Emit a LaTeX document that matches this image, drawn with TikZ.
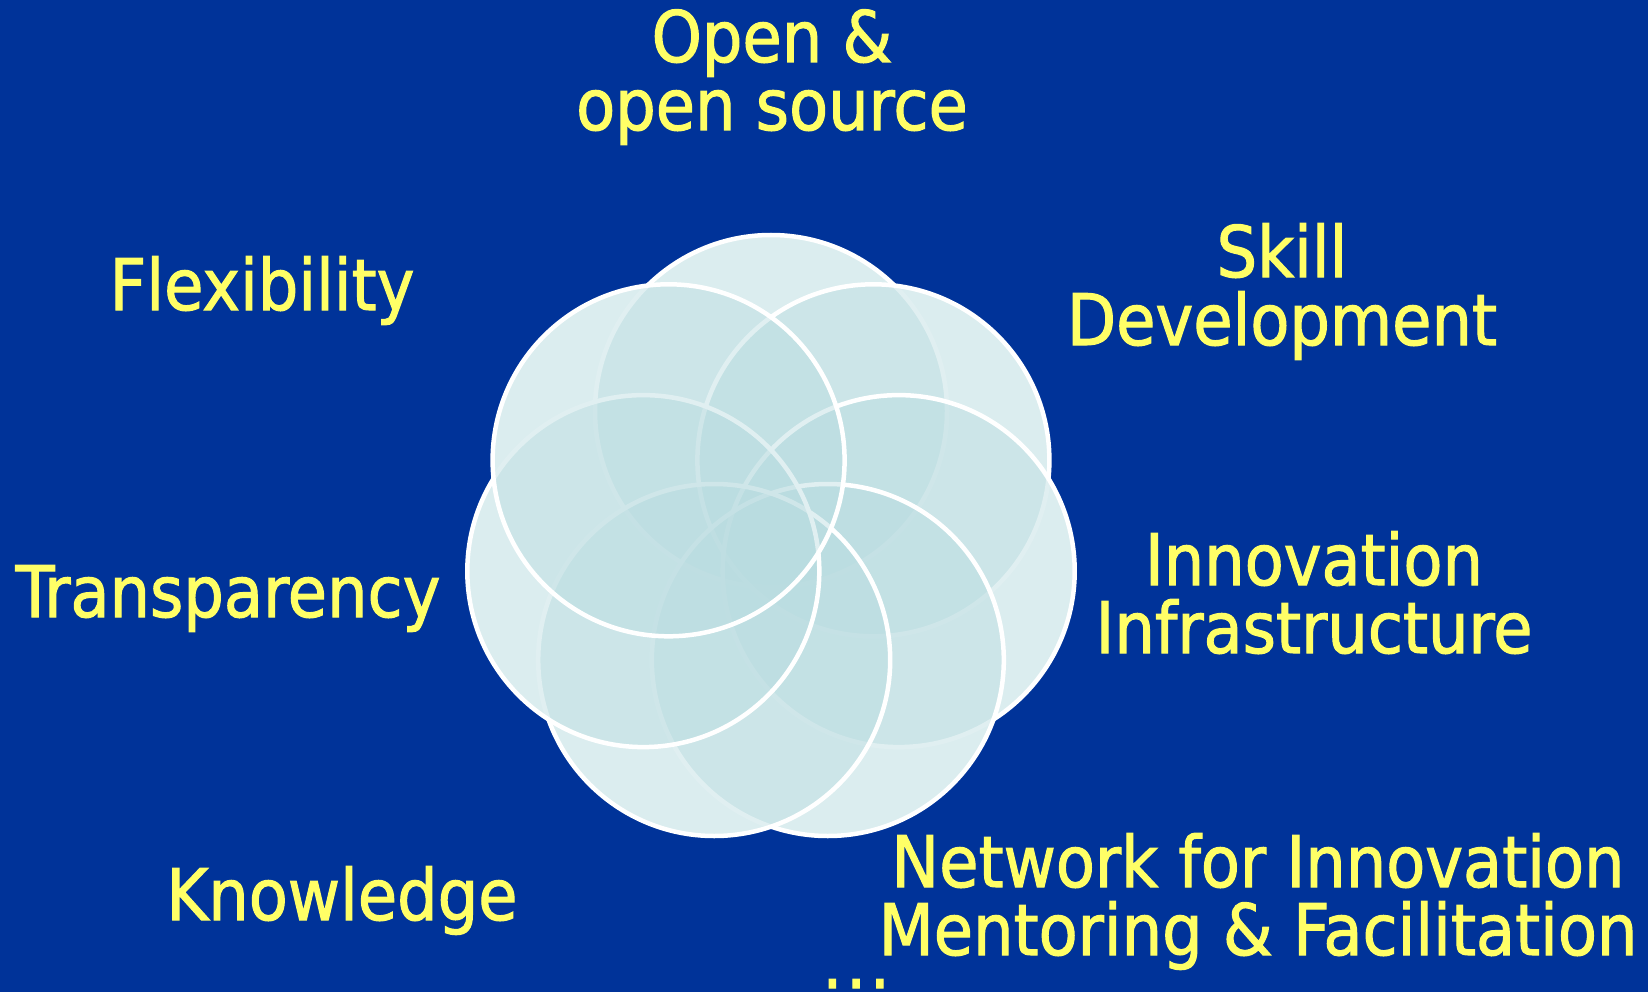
\documentclass[tikz,border=0pt]{standalone}
\usepackage{fontspec}
\setmainfont[FakeBold=1.5,AutoFakeBold=false]{DejaVu Sans Condensed}
\definecolor{slideblue}{RGB}{0,51,153}
\definecolor{textyellow}{RGB}{255,255,102}
\definecolor{petalwhite}{RGB}{246,251,252}
\definecolor{petaltint}{RGB}{185,220,224}

\begin{document}
\begin{tikzpicture}[x=1pt,y=-1pt,
    petal/.style={draw=white, line width=4.5pt, fill=petaltint, fill opacity=0.43},
    topic/.style={text=textyellow, font=\fontsize{71}{68}\selectfont, align=center, inner sep=0pt, anchor=base}]
                    \fill[slideblue] (0,0) rectangle (1648,992);
                    \useasboundingbox (0,0) rectangle (1648,992);
                    % centres of the seven rings
                    \coordinate (T) at (771,411);
                    \coordinate (UR) at (873.4,460.3);
                    \coordinate (R) at (898.7,571.1);
                    \coordinate (BR) at (827.8,660);
                    \coordinate (BL) at (714.2,660);
                    \coordinate (L) at (643.3,571.1);
                    \coordinate (UL) at (668.6,460.3);
                    \fill[petalwhite] (T) circle[radius=176pt] (UR) circle[radius=176pt]
                        (R) circle[radius=176pt] (BR) circle[radius=176pt]
                        (BL) circle[radius=176pt] (L) circle[radius=176pt]
                        (UL) circle[radius=176pt];
                    \draw[petal] (T) circle[radius=176pt];
                    \draw[petal] (UR) circle[radius=176pt];
                    \draw[petal] (R) circle[radius=176pt];
                    \draw[petal] (BR) circle[radius=176pt];
                    \draw[petal] (BL) circle[radius=176pt];
                    \draw[petal] (L) circle[radius=176pt];
                    \draw[petal] (UL) circle[radius=176pt];
                    % last baseline of each label
                    \node[topic] (open) at (772,130) {Open \&\\open source};
                    \node[topic] (flex) at (262,310) {Flexibility};
                    \node[topic] (skill) at (1282,345) {Skill\\Development};
                    \node[topic] (transp) at (228,617) {Transparency};
                    \node[topic] (innov) at (1314,653) {Innovation\\Infrastructure};
                    \node[topic] (know) at (342,920) {Knowledge};
                    \node[topic] (network) at (1258,955) {Network for Innovation\\Mentoring \& Facilitation};
                    \node[topic, anchor=base west] (dots) at (822,988) {.\kern3.5pt.\kern3.5pt.};
                \end{tikzpicture}
\end{document}
